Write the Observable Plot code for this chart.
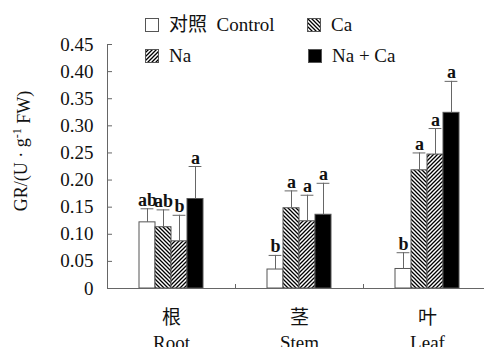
<!DOCTYPE html>
<html>
<head>
<meta charset="utf-8">
<script src="https://cdn.jsdelivr.net/npm/d3@7"></script>
<script src="https://cdn.jsdelivr.net/npm/@observablehq/plot@0.6"></script>
<style>
  html, body { margin: 0; padding: 0; background: #fff; overflow: hidden; width: 484px; height: 347px; }
  #wrap { position: relative; width: 484px; height: 347px; overflow: hidden; }
  #wrap svg.chart { position: absolute; left: 0; top: 0; max-width: none !important; }
  .leg { position: absolute; display: flex; align-items: center; font-family: "Liberation Serif", "Noto Sans CJK SC", serif; font-size: 19px; color: #111; white-space: pre; line-height: 1; }
  .leg svg { margin-right: 10px; }
</style>
</head>
<body>
<div id="wrap"></div>
<script>
// ---- data ----
const organCn = ["根", "茎", "叶"];
const organEn = ["Root", "Stem", "Leaf"];
const treatments = ["Control", "Ca", "Na", "Na + Ca"];
const legendLabels = ["对照  Control", "Ca", "Na", "Na + Ca"];

const control = [0.122, 0.035, 0.036];
const ca      = [0.113, 0.148, 0.218];
const na      = [0.087, 0.124, 0.247];
const naCa    = [0.165, 0.136, 0.324];

const controlErr = [0.025, 0.026, 0.030];
const caErr      = [0.032, 0.032, 0.032];
const naErr      = [0.048, 0.048, 0.048];
const naCaErr    = [0.060, 0.058, 0.058];

const controlSig = ["ab", "b", "b"];
const caSig      = ["ab", "a", "a"];
const naSig      = ["b", "a", "a"];
const naCaSig    = ["a", "a", "a"];

const yTicks = [0, 0.05, 0.10, 0.15, 0.20, 0.25, 0.30, 0.35, 0.40, 0.45];

// ---- build table ----
const seriesVals = [control, ca, na, naCa];
const seriesErr = [controlErr, caErr, naErr, naCaErr];
const seriesSig = [controlSig, caSig, naSig, naCaSig];
const groupWidth = 0.5;
const barW = groupWidth / treatments.length;
const rows = [];
organEn.forEach((o, i) => {
  treatments.forEach((t, j) => {
    const x1 = i - groupWidth / 2 + j * barW;
    rows.push({organ: o, t: j, x1, x2: x1 + barW, cx: x1 + barW / 2,
      value: seriesVals[j][i], err: seriesErr[j][i], sig: seriesSig[j][i]});
  });
});

const fills = ["white", "url(#hatchCa)", "url(#hatchNa)", "black"];
const axisColor = "#666";
const serif = "'Liberation Serif', 'Noto Sans CJK SC', serif";

const marks = [];
treatments.forEach((t, j) => {
  marks.push(Plot.rectY(rows.filter(d => d.t === j), {
    x1: "x1", x2: "x2", y1: d => 0, y2: "value",
    fill: fills[j], stroke: "#555", strokeWidth: 1
  }));
});
marks.push(
  Plot.ruleX(rows, {x: "cx", y1: "value", y2: d => d.value + d.err, stroke: axisColor, strokeWidth: 1}),
  Plot.ruleY(rows, {y: d => d.value + d.err, x1: d => d.cx - 0.05, x2: d => d.cx + 0.05, stroke: axisColor, strokeWidth: 1}),
  Plot.text(rows, {x: "cx", y: d => d.value + d.err, text: "sig", lineAnchor: "bottom", dy: -3,
    fontWeight: "bold", fontSize: 18, fontFamily: serif, fill: "#111"}),
  Plot.ruleY([0], {stroke: axisColor, strokeWidth: 1}),
  Plot.ruleX([-0.5], {y1: 0, y2: 0.45, stroke: axisColor, strokeWidth: 1}),
  Plot.axisY({ticks: yTicks, tickSize: 5, dx: 5, fill: "none", stroke: axisColor, label: null}),
  Plot.axisY({ticks: yTicks, tickSize: 0, tickPadding: 14, label: null,
    tickFormat: v => v === 0 ? "0" : v.toFixed(2), fontSize: 19, fontFamily: serif, fill: "#111"}),
  Plot.axisX({ticks: [0.5, 1.5], tickSize: 4, dy: -4, fill: "none", stroke: axisColor, label: null}),
  Plot.axisX({ticks: [0, 1, 2], tickSize: 0, tickPadding: 22, label: null,
    tickFormat: i => organCn[i], fontSize: 19, fontFamily: "'Noto Sans CJK SC', serif", fill: "#111"}),
  Plot.axisX({ticks: [0, 1, 2], tickSize: 0, tickPadding: 47, label: null,
    tickFormat: i => organEn[i], fontSize: 19, fontFamily: serif, fill: "#111"})
);

const chart = Plot.plot({
  width: 492,
  height: 360,
  marginLeft: 107,
  marginRight: 1,
  marginTop: 44,
  marginBottom: 72,
  x: {domain: [-0.5, 2.5]},
  y: {domain: [0, 0.45]},
  style: {background: "white", fontFamily: serif, fontSize: "19px", overflow: "visible"},
  marks
});
chart.classList.add("chart");
chart.style.maxWidth = "none";
chart.style.width = "492px";
chart.style.height = "360px";

// hatch patterns
const svg = d3.select(chart);
const defs = svg.insert("defs", ":first-child");
function hatch(id, d) {
  const p = defs.append("pattern").attr("id", id).attr("patternUnits", "userSpaceOnUse")
    .attr("width", 4).attr("height", 4);
  p.append("rect").attr("width", 4).attr("height", 4).attr("fill", "white");
  p.append("path").attr("d", d).attr("stroke", "black").attr("stroke-width", 1.3).attr("fill", "none");
}
hatch("hatchCa", "M-1,-1 L5,5 M-1,3 L1,5 M3,-1 L5,1");
hatch("hatchNa", "M-1,5 L5,-1 M-1,1 L1,-1 M3,5 L5,3");

// y label with superscript
svg.append("text")
  .attr("transform", "translate(23,151) rotate(-90)")
  .attr("text-anchor", "middle")
  .attr("dominant-baseline", "middle")
  .attr("font-family", serif)
  .attr("font-size", 18)
  .attr("fill", "#111")
  .call(t => {
    t.append("tspan").text("GR/(U · g");
    t.append("tspan").attr("dy", "-0.45em").attr("font-size", "12").text("-1");
    t.append("tspan").attr("dy", "0.45em").text(" FW)");
  });

const wrap = document.getElementById("wrap");
wrap.appendChild(chart);

// legend (HTML overlay)
const legPos = [
  {left: 145, top: 15},
  {left: 307, top: 15},
  {left: 145, top: 46},
  {left: 308, top: 46}
];
treatments.forEach((t, j) => {
  const div = document.createElement("div");
  div.className = "leg";
  div.style.left = legPos[j].left + "px";
  div.style.top = legPos[j].top + "px";
  div.innerHTML = `<svg width="14" height="14"><rect x="0.5" y="0.5" width="13" height="13" fill="${fills[j]}" stroke="#555"/></svg><span>${legendLabels[j]}</span>`;
  wrap.appendChild(div);
});
</script>
</body>
</html>
